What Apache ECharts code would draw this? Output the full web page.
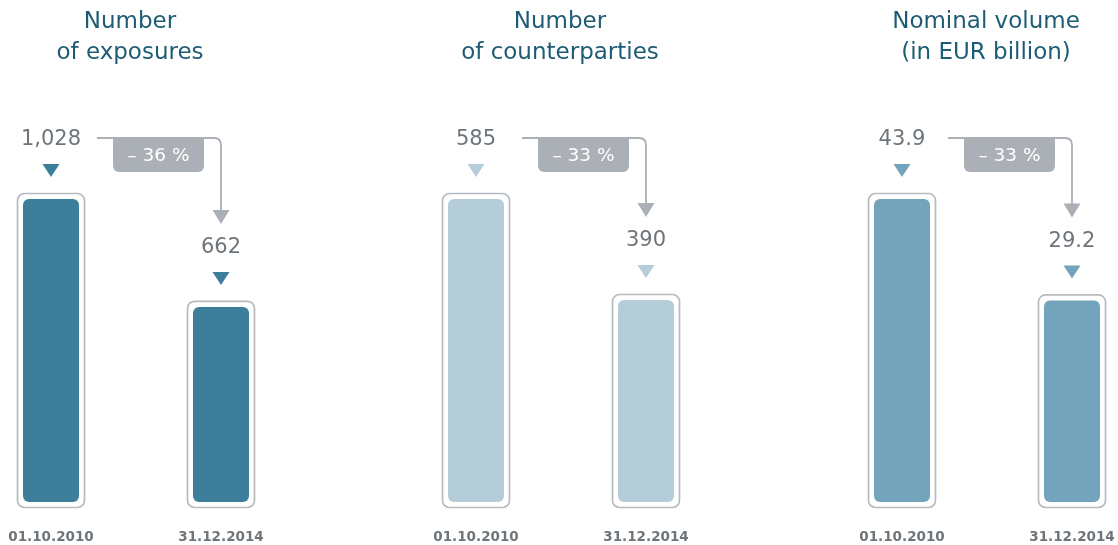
<!DOCTYPE html>
<html>
<head>
<meta charset="utf-8">
<script src="https://cdn.jsdelivr.net/npm/echarts@6/dist/echarts.min.js"></script>
<style>
html,body{margin:0;padding:0;background:#fff;}
#chart{width:1118px;height:545px;}
</style>
</head>
<body>
<div id="chart"></div>
<script>
// ---- data ----
const categories = ['01.10.2010', '31.12.2014'];
const exposures = [1028, 662];
const counterparties = [585, 390];
const volume = [43.9, 29.2];
const exposureLabels = ['1,028', '662'];
const counterpartyLabels = ['585', '390'];
const volumeLabels = ['43.9', '29.2'];
const changeLabels = ['– 36 %', '– 33 %', '– 33 %'];
const titles = ['Number\nof exposures', 'Number\nof counterparties', 'Nominal volume\n(in EUR billion)'];

// ---- styling ----
const barColors = ['#3d7f9b', '#b4cdd9', '#74a4bb'];
const titleColor = '#1d5c74';
const textGray = '#6e757a';
const connectorGray = '#abb0b6';
const outlineGray = '#b6bbc0';
const FONT = '"DejaVu Sans", sans-serif';

const panels = [
  { values: exposures, labels: exposureLabels, left: 51, titleX: 130 },
  { values: counterparties, labels: counterpartyLabels, left: 476, titleX: 560 },
  { values: volume, labels: volumeLabels, left: 902, titleX: 986 }
];

const chart = echarts.init(document.getElementById('chart'), null, { renderer: 'canvas' });

function makeRender(pi) {
  const panel = panels[pi];
  const color = barColors[pi];
  return function (params, api) {
    const idx = api.value(0);
    const v = api.value(1);
    const top = api.coord([idx, v]);
    const base = api.coord([idx, 0]);
    const cx = top[0];
    const ty = top[1];
    const h = base[1] - ty;
    const children = [
      { type: 'rect', shape: { x: cx - 33.5, y: ty - 5.5, width: 67, height: h + 11, r: 7 },
        style: { fill: '#fff', stroke: outlineGray, lineWidth: 1.7 } },
      { type: 'rect', shape: { x: cx - 28, y: ty, width: 56, height: h, r: 6 },
        style: { fill: color } },
      { type: 'polygon', shape: { points: [[cx - 8.5, ty - 35], [cx + 8.5, ty - 35], [cx, ty - 22]] },
        style: { fill: color } },
      { type: 'text', x: cx, y: ty - 59,
        style: { text: panel.labels[idx], align: 'center', verticalAlign: 'middle',
                 fill: textGray, fontSize: 21, fontFamily: FONT } }
    ];
    if (idx === 0) {
      const p1 = api.coord([1, panel.values[1]]);
      const x2 = p1[0];
      const ly = ty - 61;
      const tip = p1[1] - 83;
      const sx = cx + 46;
      const r = 7;
      children.push({
        type: 'path',
        shape: { pathData: 'M' + sx + ' ' + ly + ' L' + (x2 - r) + ' ' + ly +
                 ' Q' + x2 + ' ' + ly + ' ' + x2 + ' ' + (ly + r) + ' L' + x2 + ' ' + (tip - 13) },
        style: { fill: null, stroke: connectorGray, lineWidth: 1.8 }
      });
      children.push({
        type: 'polygon', shape: { points: [[x2 - 8.5, tip - 14], [x2 + 8.5, tip - 14], [x2, tip]] },
        style: { fill: connectorGray }
      });
      children.push({
        type: 'rect', shape: { x: cx + 62, y: ly, width: 91, height: 34, r: [0, 0, 6, 6] },
        style: { fill: connectorGray }
      });
      children.push({
        type: 'text', x: cx + 107.5, y: ly + 18,
        style: { text: changeLabels[pi], align: 'center', verticalAlign: 'middle',
                 fill: '#fff', fontSize: 18.5, fontFamily: FONT } }
      );
    }
    return { type: 'group', children: children };
  };
}

const option = {
  animation: false,
  backgroundColor: '#fff',
  graphic: panels.map((p, i) => ({
    type: 'text', x: p.titleX, y: 38,
    style: { text: titles[i], align: 'center', verticalAlign: 'middle', lineHeight: 31,
             fill: titleColor, fontSize: 23, fontFamily: FONT }
  })),
  grid: panels.map(p => ({ left: p.left, width: 170, top: 199, bottom: 43 })),
  xAxis: panels.map((p, i) => ({
    type: 'category', gridIndex: i, data: categories, boundaryGap: false,
    axisLine: { show: false }, axisTick: { show: false }, splitLine: { show: false },
    axisLabel: { margin: 28, color: textGray, fontSize: 13.5, fontWeight: 'bold', fontFamily: FONT }
  })),
  yAxis: panels.map((p, i) => ({
    type: 'value', gridIndex: i, min: 0, max: function (e) { return e.max; }, show: false
  })),
  series: panels.map((p, i) => ({
    type: 'custom', xAxisIndex: i, yAxisIndex: i, clip: false,
    renderItem: makeRender(i),
    encode: { x: 0, y: 1 },
    data: p.values.map((v, k) => [k, v])
  }))
};
chart.setOption(option);
</script>
</body>
</html>
